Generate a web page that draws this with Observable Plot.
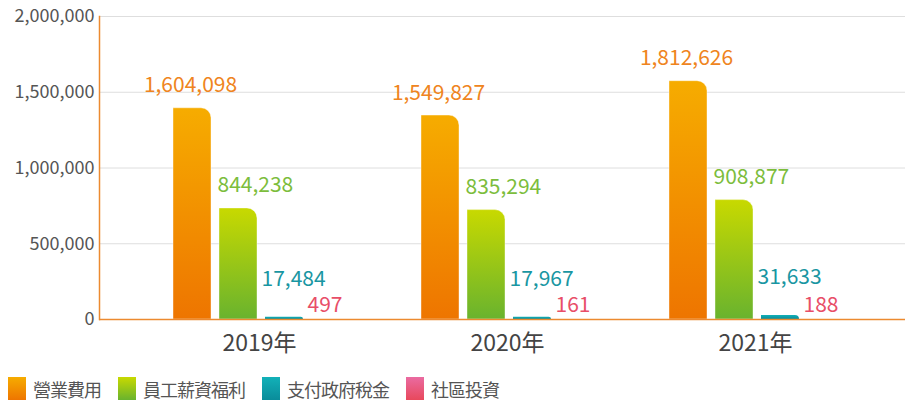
<!DOCTYPE html>
<html>
<head>
<meta charset="utf-8">
<script src="https://cdn.jsdelivr.net/npm/d3@7"></script>
<script src="https://cdn.jsdelivr.net/npm/@observablehq/plot@0.6"></script>
<style>
  html, body { margin: 0; padding: 0; background: #fff; }
  body { width: 905px; height: 401px; position: relative; overflow: hidden; font-family: "Noto Sans CJK TC", "Noto Sans", sans-serif; }
  #legend { position: absolute; left: 8px; top: 377px; height: 23px; display: flex; align-items: center; font-size: 18px; line-height: 20px; letter-spacing: -1px; color: #555; }
  .item { display: flex; align-items: center; margin-right: 17px; }
  .sw { width: 18px; height: 23px; margin-right: 7px; }
</style>
</head>
<body>
<div id="chart"></div>
<div id="legend"></div>
<script>
// ---- data ----
const years = ["2019", "2020", "2021"];
const seriesNames = ["營業費用", "員工薪資福利", "支付政府稅金", "社區投資"];
// labelled values
const operatingExpenses = [1604098, 1549827, 1812626];
const employeeBenefits = [844238, 835294, 908877];
const governmentTaxes = [17484, 17967, 31633];
const communityInvestment = [497, 161, 188];
// bar heights as drawn in the picture (read against the y axis)
const operatingExpensesBar = [1394000, 1346000, 1573000];
const employeeBenefitsBar = [733000, 722000, 788000];
const governmentTaxesBar = [15000, 15500, 27000];
const communityInvestmentBar = [430, 140, 160];
const yTicks = [0, 500000, 1000000, 1500000, 2000000];

const colorsTop = ["#f6ac00", "#c8d900", "#12b1b8", "#ea6ba1"];
const colorsBottom = ["#ee7500", "#69b32e", "#0a8c9a", "#e8485c"];
const labelColors = ["#ef8420", "#7cbd3c", "#1996a2", "#e84e68"];

const values = [operatingExpenses, employeeBenefits, governmentTaxes, communityInvestment];
const bars = [operatingExpensesBar, employeeBenefitsBar, governmentTaxesBar, communityInvestmentBar];

const rows = seriesNames.map((s, i) => years.map((y, j) => ({year: y, series: s, value: values[i][j], bar: bars[i][j]})));

// layout of series inside each year band
const insets = [[36, 174], [82, 128], [128, 82], [174, 36]];
const labelDx = [-71, -44, 0, 46];
const labelDy = [-16, -16, -31, -7];
const labelAnchor = ["middle", "start", "start", "start"];
const barStroke = ["#ffffff", "#ffffff", "none", "none"];

const orange = "#ec8a30";
const font = "Noto Sans CJK TC";
const fmt = d3.format(",");

const marks = [
  Plot.gridY(yTicks, {stroke: "#dedede", strokeOpacity: 1}),
  Plot.axisY(yTicks, {tickSize: 0, tickPadding: 5, tickFormat: fmt, fontSize: 18, fill: "#555", fontFamily: font, label: null}),
  Plot.axisX({tickSize: 0, tickPadding: 15, tickFormat: d => d + "年", fontSize: 23, fill: "#444", fontFamily: font, label: null, dx: -2})
];
rows.forEach((data, i) => {
  marks.push(Plot.barY(data, {
    x: "year", y: "bar", fill: `url(#grad${i})`,
    insetLeft: insets[i][0], insetRight: insets[i][1],
    rx2y1: 10, stroke: barStroke[i], strokeOpacity: 0.4, strokeWidth: 1
  }));
});
marks.push(Plot.ruleY([0], {stroke: orange, strokeWidth: 1.5}));
marks.push(Plot.frame({anchor: "left", stroke: orange, strokeWidth: 1.5}));
rows.forEach((data, i) => {
  marks.push(Plot.text(data, {
    x: "year", y: "bar", text: d => fmt(d.value),
    dx: labelDx[i], dy: labelDy[i], textAnchor: labelAnchor[i], lineAnchor: "bottom",
    fill: labelColors[i], fontSize: 21, fontFamily: font
  }));
});

const chart = Plot.plot({
  width: 905,
  height: 370,
  marginLeft: 99,
  marginRight: 0,
  marginTop: 16,
  marginBottom: 51,
  style: {fontFamily: font, background: "#fff", overflow: "visible"},
  x: {type: "band", domain: years, range: [137, 881], padding: 0},
  y: {domain: [0, 2000000]},
  marks
});

// gradients
const ns = "http://www.w3.org/2000/svg";
const defs = document.createElementNS(ns, "defs");
colorsTop.forEach((c, i) => {
  const g = document.createElementNS(ns, "linearGradient");
  g.setAttribute("id", "grad" + i);
  g.setAttribute("x1", "0"); g.setAttribute("y1", "0");
  g.setAttribute("x2", "0"); g.setAttribute("y2", "1");
  const s1 = document.createElementNS(ns, "stop");
  s1.setAttribute("offset", "0"); s1.setAttribute("stop-color", c);
  const s2 = document.createElementNS(ns, "stop");
  s2.setAttribute("offset", "1"); s2.setAttribute("stop-color", colorsBottom[i]);
  g.appendChild(s1); g.appendChild(s2);
  defs.appendChild(g);
});
chart.insertBefore(defs, chart.firstChild);
document.getElementById("chart").appendChild(chart);

// legend
const legend = document.getElementById("legend");
seriesNames.forEach((s, i) => {
  const item = document.createElement("div");
  item.className = "item";
  const sw = document.createElement("div");
  sw.className = "sw";
  sw.style.background = `linear-gradient(${colorsTop[i]}, ${colorsBottom[i]})`;
  const t = document.createElement("span");
  t.textContent = s;
  item.appendChild(sw); item.appendChild(t);
  legend.appendChild(item);
});
</script>
</body>
</html>
